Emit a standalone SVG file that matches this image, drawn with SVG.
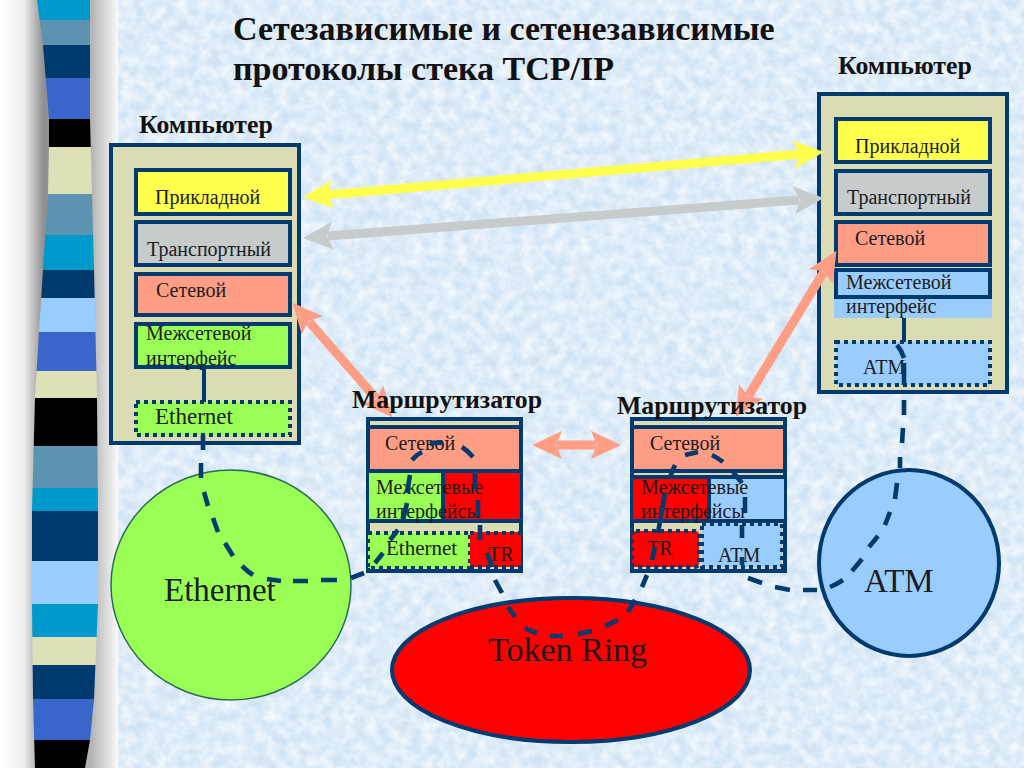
<svg xmlns="http://www.w3.org/2000/svg" width="1024" height="768" viewBox="0 0 1024 768">
<style>
text{font-family:"Liberation Serif","Times New Roman",serif;fill:#1c1c1c}
.t{font-size:34px;font-weight:bold;fill:#111}
.h{font-size:25.8px;font-weight:bold;fill:#111}
.m{font-size:20px}
.b{font-size:23px}
.big{font-size:33px}
.tr{font-size:34px}
.box{stroke:#003a6e;stroke-width:4}
.dot{stroke:#003a6e;stroke-width:4;stroke-dasharray:4 4}
.none{fill:none}
.beige{fill:#dcdcb4}.yel{fill:#ffff4d}.gry{fill:#c6cccc}.sal{fill:#ff9d85}.grn{fill:#99ff55}.blu{fill:#99ccff}.red{fill:#ff0000}
.nav{stroke:#003a6e;stroke-width:4;fill:none}
.dash{stroke:#003a6e;stroke-width:4.6;fill:none}
.ay{stroke:#ffff4d;stroke-width:9;marker-start:url(#my);marker-end:url(#my)}
.ag{stroke:#c6cccc;stroke-width:9;marker-start:url(#mg);marker-end:url(#mg)}
.as{stroke:#ff9d85;stroke-width:9;marker-start:url(#ms);marker-end:url(#ms)}
</style>
<defs>
<linearGradient id="shade" x1="0" x2="1" y1="0" y2="0">
<stop offset="0" stop-color="#fff"/><stop offset=".2" stop-color="#efefef"/><stop offset=".37" stop-color="#8f8f8f"/><stop offset=".78" stop-color="#b5b5b5"/><stop offset="1" stop-color="#fafafa"/>
</linearGradient>
<filter id="mottle" x="0" y="0" width="100%" height="100%">
<feTurbulence type="fractalNoise" baseFrequency="0.09" numOctaves="5" seed="7"/>
<feColorMatrix type="matrix" values="0 0 0 0 1  0 0 0 0 1  0 0 0 0 1  1.3 0 0 0 -0.32"/>
</filter>
<clipPath id="rib"><path d="M37,0 L43,45 L49,119 L49,147 L48,194 L43,270 L39,332 L35,398 L32,511 L32,604 L33,699 L35,768 L85,768 L90,740 L94,699 L98,604 L98,511 L97,398 L94,270 L92,194 L90,119 L90,0Z"/></clipPath>
<marker id="my" markerUnits="userSpaceOnUse" markerWidth="36" markerHeight="32" refX="5" refY="16" orient="auto-start-reverse"><path d="M0,2 L30,16 L0,30 L6,16Z" fill="#ffff4d"/></marker>
<marker id="mg" markerUnits="userSpaceOnUse" markerWidth="36" markerHeight="32" refX="5" refY="16" orient="auto-start-reverse"><path d="M0,2 L30,16 L0,30 L6,16Z" fill="#c6cccc"/></marker>
<marker id="ms" markerUnits="userSpaceOnUse" markerWidth="36" markerHeight="32" refX="5" refY="16" orient="auto-start-reverse"><path d="M0,2 L30,16 L0,30 L6,16Z" fill="#ff9d85"/></marker>
</defs>

<g id="background">
<rect width="1024" height="768" fill="#cfe3f5"/>
<rect x="118" width="906" height="768" filter="url(#mottle)"/>
<rect width="118" height="768" fill="url(#shade)"/>
<g clip-path="url(#rib)">
<rect x="30" y="0" width="70" height="20" fill="#0099cc"/>
<rect x="30" y="20" width="70" height="25" fill="#5b93b0"/>
<rect x="30" y="45" width="70" height="33" fill="#003a6e"/>
<rect x="30" y="78" width="70" height="41" fill="#3a66cc"/>
<rect x="30" y="119" width="70" height="28" fill="#000"/>
<rect x="30" y="147" width="70" height="47" fill="#e0e0b8"/>
<rect x="30" y="194" width="70" height="41" fill="#5b93b0"/>
<rect x="30" y="235" width="70" height="35" fill="#0099cc"/>
<rect x="30" y="270" width="70" height="28" fill="#003a6e"/>
<rect x="30" y="298" width="70" height="34" fill="#99ccff"/>
<rect x="30" y="332" width="70" height="39" fill="#3a66cc"/>
<rect x="30" y="371" width="70" height="27" fill="#e0e0b8"/>
<rect x="30" y="398" width="70" height="48" fill="#000"/>
<rect x="30" y="446" width="70" height="42" fill="#5b93b0"/>
<rect x="30" y="488" width="70" height="23" fill="#0099cc"/>
<rect x="30" y="511" width="70" height="50" fill="#003a6e"/>
<rect x="30" y="561" width="70" height="43" fill="#99ccff"/>
<rect x="30" y="604" width="70" height="33" fill="#0099cc"/>
<rect x="30" y="637" width="70" height="28" fill="#e0e0b8"/>
<rect x="30" y="665" width="70" height="34" fill="#003a6e"/>
<rect x="30" y="699" width="70" height="41" fill="#3a66cc"/>
<rect x="30" y="740" width="70" height="28" fill="#000"/>
</g>
</g>

<g id="title">
<text class="t" x="233" y="40">Сетезависимые и сетенезависимые</text>
<text class="t" x="233" y="80">протоколы стека TCP/IP</text>
</g>

<g id="ethernet-net"><ellipse cx="231" cy="585" rx="120" ry="115" class="grn" stroke="#2a6a5a" stroke-width="1.5"/><text class="big" x="164" y="601">Ethernet</text></g>
<g id="token-ring-net"><ellipse cx="571" cy="670" rx="179" ry="72" class="red box"/><text class="tr" x="488" y="661">Token Ring</text></g>
<g id="atm-net"><ellipse cx="909" cy="563" rx="90" ry="93" class="blu box"/><text class="big" x="864" y="592">ATM</text></g>

<g id="computer-left">
<rect x="111" y="145" width="188" height="298" class="beige box"/>
<path class="nav" d="M204,367V402"/>
<rect x="136" y="170" width="154" height="44" class="yel box"/><text class="m" x="155" y="204">Прикладной</text>
<rect x="136" y="222" width="154" height="43" class="gry box"/><text class="m" x="147" y="256">Транспортный</text>
<rect x="136" y="274" width="154" height="41" class="sal box"/><text class="m" x="156" y="297">Сетевой</text>
<rect x="136" y="324" width="154" height="43" class="grn box"/><text class="m" x="146" y="340">Межсетевой</text><text class="m" x="146" y="365">интерфейс</text>
<rect x="136" y="402" width="154" height="33" class="grn dot"/><text class="b" x="155" y="424">Ethernet</text>
</g>

<g id="computer-right">
<rect x="819" y="94" width="188" height="298" class="beige box"/>
<rect x="834" y="297" width="158" height="21" class="blu"/>
<path class="nav" d="M904,318V342"/>
<rect x="836" y="119" width="154" height="43" class="yel box"/><text class="m" x="855" y="153">Прикладной</text>
<rect x="836" y="171" width="154" height="43" class="gry box"/><text class="m" x="847" y="204">Транспортный</text>
<rect x="836" y="222" width="154" height="43" class="sal box"/><text class="m" x="855" y="245">Сетевой</text>
<rect x="836" y="270" width="154" height="27" class="blu box"/><text class="m" x="846" y="289">Межсетевой</text><text class="m" x="846" y="313">интерфейс</text>
<rect x="836" y="342" width="154" height="43" class="blu dot"/><text class="m" x="863" y="374">ATM</text>
</g>

<g id="router-left">
<rect x="368" y="419" width="153" height="152" class="beige box"/>
<rect x="368" y="427" width="153" height="44" class="sal box"/>
<rect x="369" y="472" width="74" height="48" class="grn"/>
<rect x="443" y="472" width="77" height="48" class="red"/>
<path class="nav" d="M368,471H521M443,471V521M368,521H521"/>
<rect x="368" y="533" width="102" height="35" class="grn dot"/>
<rect x="470" y="532" width="51" height="35" class="red"/>
<path class="dot none" d="M470,533H521M470,567H521"/>
<text class="m" x="385" y="450">Сетевой</text>
<text class="m" x="376" y="494">Межсетевые</text><text class="m" x="376" y="518">интерфейсы</text>
<text class="m" x="386" y="555" style="font-size:21px">Ethernet</text>
<text class="m" x="488" y="561">TR</text>
</g>

<g id="router-right">
<rect x="632" y="419" width="153" height="152" class="beige box"/>
<rect x="632" y="427" width="153" height="44" class="sal box"/>
<rect x="633" y="479" width="76" height="41" class="red"/>
<rect x="709" y="479" width="75" height="41" class="blu"/>
<path class="nav" d="M632,477H785M709,477V521M632,521H785"/>
<rect x="632" y="531" width="67" height="36" class="red dot" rx="4"/>
<rect x="702" y="524" width="80" height="43" class="blu dot"/>
<text class="m" x="650" y="450">Сетевой</text>
<text class="m" x="641" y="494">Межсетевые</text><text class="m" x="641" y="518">интерфейсы</text>
<text class="m" x="647" y="555">TR</text>
<text class="m" x="718" y="562">ATM</text>
</g>

<g id="connectors">
<path class="dash" d="M203,435V450M201,463V478M204,492L208,506M213,518L218,532M225,543L233,556M242,566Q247,571 253,575M267,579L281,581M293,581H308M321,580H337M351,578L364,573M375,563L383,553M390,540L398,530M403,520L407,503M407,493L410,475M412,460Q416,455 422,452M430,444Q436,442 443,443M462,447Q468,451 473,457M475,473V490M478,500V517M480,525V540M487,553L492,567M495,580L502,593M508,607L515,617M525,628Q530,631 537,633M550,636H563M578,634L592,631M605,626L618,620M628,612L635,600M642,587L647,575M652,560L655,547M658,533L665,493M670,477L675,465M685,455L698,452M712,455Q718,458 723,462M733,472L742,483M745,497V513M742,525V538M742,557V565M748,578L762,583M775,587L790,590M803,590H817M830,587Q837,584 843,580M852,571L862,559M869,547L878,536M885,525L890,512M895,499L897,483M900,468V457M902,443L903,428M904,415V400M904,385V363M904,358Q902,351 897,345"/>
<path class="ay" d="M328,194.8L799,154.2"/>
<path class="ag" d="M328,236L799,200"/>
<path class="as" d="M309,321.6L376,398.4"/>
<path class="as" d="M823.5,272.2L748.5,395.8"/>
<path class="as" d="M557,445H596"/>
</g>

<g id="labels">
<text class="h" x="139" y="133">Компьютер</text>
<text class="h" x="838" y="74">Компьютер</text>
<text class="h" x="352" y="408">Маршрутизатор</text>
<text class="h" x="617" y="414">Маршрутизатор</text>
</g>
</svg>
